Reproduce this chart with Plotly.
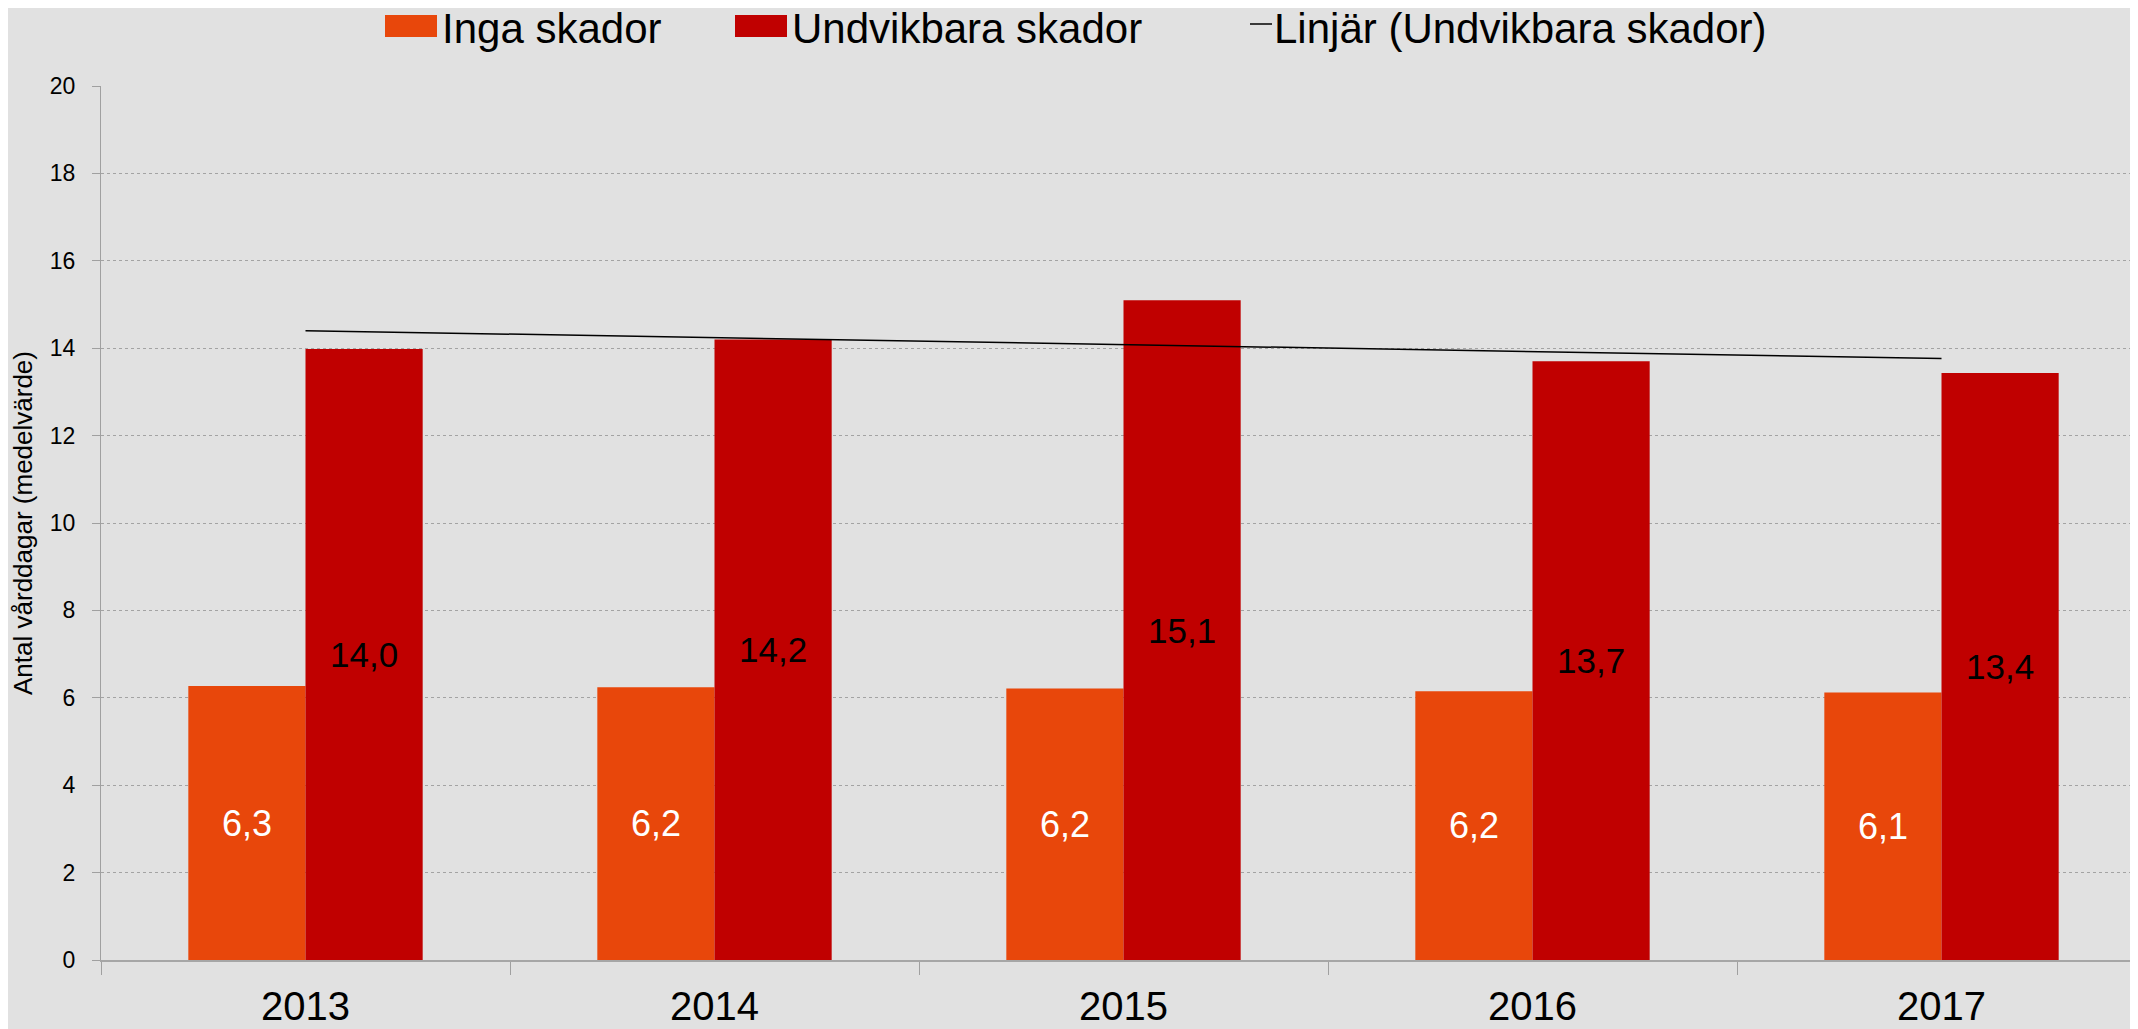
import numpy as np
import plotly.graph_objects as go

# ---------------- data ----------------
years = ["2013", "2014", "2015", "2016", "2017"]
inga_skador = [6.27, 6.24, 6.21, 6.15, 6.12]
undvikbara_skador = [13.98, 14.2, 15.1, 13.7, 13.43]
y_ticks = [0, 2, 4, 6, 8, 10, 12, 14, 16, 18, 20]

series_names = ["Inga skador", "Undvikbara skador", "Linjär (Undvikbara skador)"]
c_orange = "#E8470B"
c_red = "#C00000"
bg = "#E1E1E1"
FONT = "Liberation Sans, Arial, sans-serif"

W, H = 2138, 1029
OFF = 8  # page body margin offsets the figure in the browser
ML, MR, MT, MB = 101 - OFF, 0, 86 - OFF, H - (960 - OFF)


def fmt(v):
    return f"{v:.1f}".replace(".", ",")


# linear trendline (least squares) of Undvikbara skador, as in the original chart
xi = np.arange(len(years))
slope, intercept = np.polyfit(xi, undvikbara_skador, 1)
trend = list(intercept + slope * xi)

fig = go.Figure()
fig.add_bar(
    x=years, y=inga_skador, name=series_names[0],
    marker=dict(color=c_orange, line=dict(width=0)),
    text=[fmt(v) for v in inga_skador], textposition="inside",
    insidetextanchor="middle", constraintext="none",
    textfont=dict(color="white", size=36, family=FONT),
)
fig.add_bar(
    x=years, y=undvikbara_skador, name=series_names[1],
    marker=dict(color=c_red, line=dict(width=0)),
    text=[fmt(v) for v in undvikbara_skador], textposition="inside",
    insidetextanchor="middle", constraintext="none",
    textfont=dict(color="black", size=35, family=FONT),
)
fig.add_scatter(
    x=years, y=trend, mode="lines", name=series_names[2],
    line=dict(color="black", width=1.5),
)

# ---------- custom legend (patches like the original wide swatches) ----------
def px_x(x):
    return (x - OFF - ML) / (W - ML - MR)


def px_y(y):
    return (H - MB - (y - OFF)) / (H - MT - MB)


shapes = []
annotations = []
legend_items = [
    # (kind, color, x0, x1, text_x)
    ("rect", c_orange, 385, 437, 440),
    ("rect", c_red, 735, 787, 790),
    ("line", "black", 1250, 1272, 1272),
]
for (kind, col, x0, x1, tx), name in zip(legend_items, series_names):
    if kind == "rect":
        shapes.append(dict(type="rect", xref="paper", yref="paper",
                           x0=px_x(x0), x1=px_x(x1), y0=px_y(37), y1=px_y(15),
                           fillcolor=col, line=dict(width=0)))
    else:
        shapes.append(dict(type="line", xref="paper", yref="paper",
                           x0=px_x(x0), x1=px_x(x1), y0=px_y(24), y1=px_y(24),
                           line=dict(color=col, width=1.5)))
    annotations.append(dict(text=name, xref="paper", yref="paper",
                            x=px_x(tx), y=px_y(29), xanchor="left", yanchor="middle",
                            showarrow=False, font=dict(size=42, color="black", family=FONT)))

fig.update_layout(
    width=W, height=H,
    margin=dict(l=ML, r=MR, t=MT, b=MB, pad=0, autoexpand=False),
    paper_bgcolor=bg, plot_bgcolor=bg,
    barmode="group", bargap=0.427, bargroupgap=0,
    showlegend=False,
    font=dict(family=FONT, color="black"),
    shapes=shapes, annotations=annotations,
)
fig.update_xaxes(
    type="category", range=[-0.5, 4.5], automargin=False,
    tickson="boundaries", ticks="outside", ticklen=13, tickcolor="#A0A0A0", tickwidth=1,
    showline=True, linecolor="#A6A6A6", linewidth=2,
    showgrid=False, zeroline=False,
    tickfont=dict(size=40, color="black", family=FONT),
    ticklabelstandoff=10,
)
fig.update_yaxes(
    range=[0, 20], tickvals=y_ticks, ticktext=[str(v) for v in y_ticks],
    automargin=False,
    ticks="outside", ticklen=8, tickcolor="#A0A0A0", tickwidth=1,
    showline=True, linecolor="#A0A0A0", linewidth=1,
    showgrid=True, gridcolor="#A3A3A3", griddash="dot", gridwidth=1,
    zeroline=False,
    tickfont=dict(size=23, color="black", family=FONT),
    ticklabelstandoff=12,
    title=dict(text="Antal vårddagar (medelvärde)", standoff=9,
               font=dict(size=26, color="black", family=FONT)),
)

fig.write_html("out.html")
